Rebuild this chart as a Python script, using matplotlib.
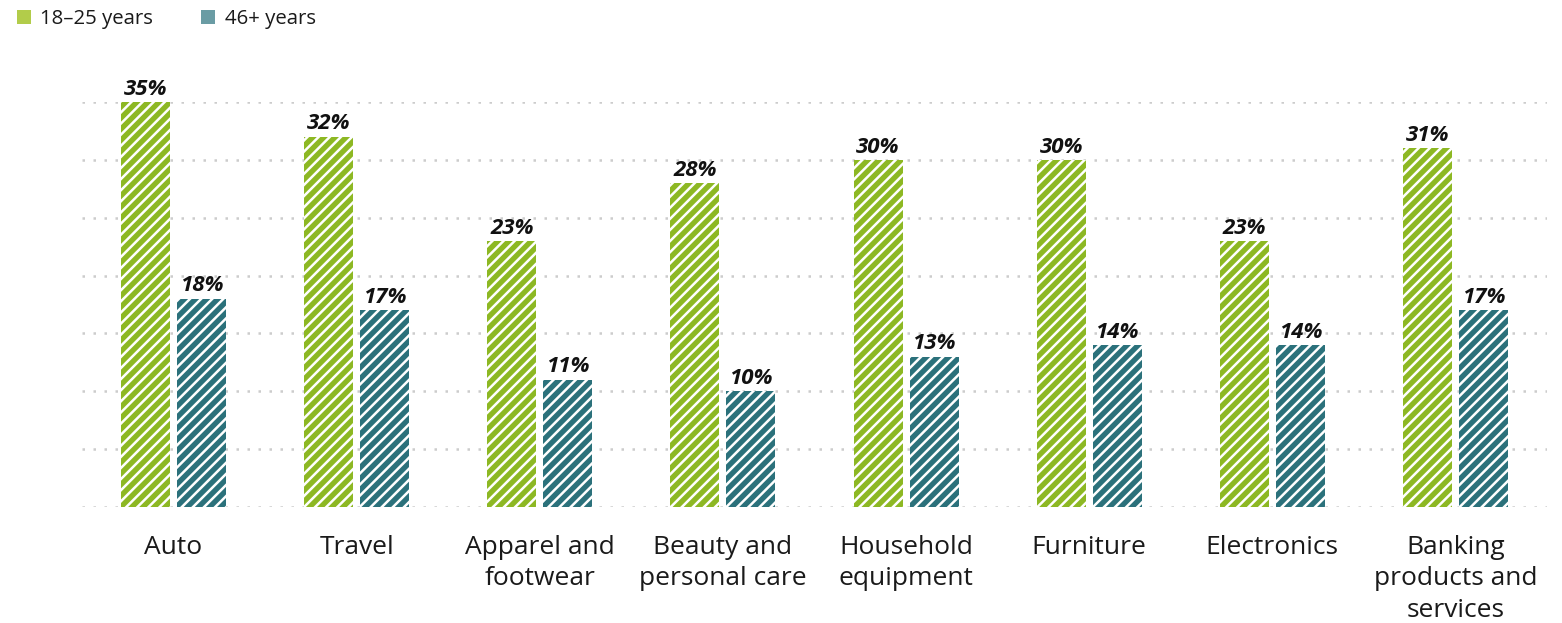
import matplotlib.pyplot as plt
import numpy as np
from matplotlib.patches import Patch

plt.rcParams['font.family'] = ['Open Sans', 'DejaVu Sans']
plt.rcParams['hatch.linewidth'] = 1.8

categories = ["Auto", "Travel", "Apparel and\nfootwear", "Beauty and\npersonal care",
              "Household\nequipment", "Furniture", "Electronics",
              "Banking\nproducts and\nservices"]
young = [35, 32, 23, 28, 30, 30, 23, 31]
older = [18, 17, 11, 10, 13, 14, 14, 17]
series_names = ["18–25 years", "46+ years"]

green = "#8db823"
teal = "#2b717b"

fig = plt.figure(figsize=(15.62, 6.23), dpi=100)
ax = fig.add_axes([82 / 1562, (623 - 507) / 623, (1547 - 82) / 1562, 405 / 623])

x = np.arange(len(categories))
w = 0.268
off = 0.153

# white diagonal hatching: hatch colour follows the edge colour
b1 = ax.bar(x - off, young, w, color=green, hatch='///', edgecolor='white',
            linewidth=0, zorder=3)
b2 = ax.bar(x + off, older, w, color=teal, hatch='///', edgecolor='white',
            linewidth=0, zorder=3)

for bars, vals in ((b1, young), (b2, older)):
    for rect, v in zip(bars, vals):
        ax.text(rect.get_x() + rect.get_width() / 2, v + 0.2, f"{v}%",
                ha='center', va='bottom', fontsize=16, fontweight='bold',
                fontstyle='italic', color='#111111', clip_on=False)

ax.set_xlim(-0.5, 7.5)
ax.set_ylim(0, 35)
ax.set_yticks(np.arange(0, 36, 5))
ax.yaxis.grid(True, color='#cccccc', linestyle=(0, (1, 3.4)), linewidth=1.8, zorder=0)
ax.set_yticklabels([])
ax.tick_params(axis='y', length=0)
ax.set_xticks(x)
ax.set_xticklabels(categories, fontsize=19, color='#1a1a1a', linespacing=1.34)
ax.tick_params(axis='x', length=0, pad=20)
for s in ax.spines.values():
    s.set_visible(False)

handles = [Patch(facecolor="#b2cc4a", edgecolor='none'),
           Patch(facecolor="#6a9ca4", edgecolor='none')]
fig.legend(handles, series_names, loc='upper left', bbox_to_anchor=(-0.001, 1.015),
           ncol=2, frameon=False, fontsize=14.7, handlelength=0.7, handleheight=0.7,
           handletextpad=0.45, columnspacing=2.35, labelcolor='#1a1a1a')

fig.savefig("out.png", dpi=100)
